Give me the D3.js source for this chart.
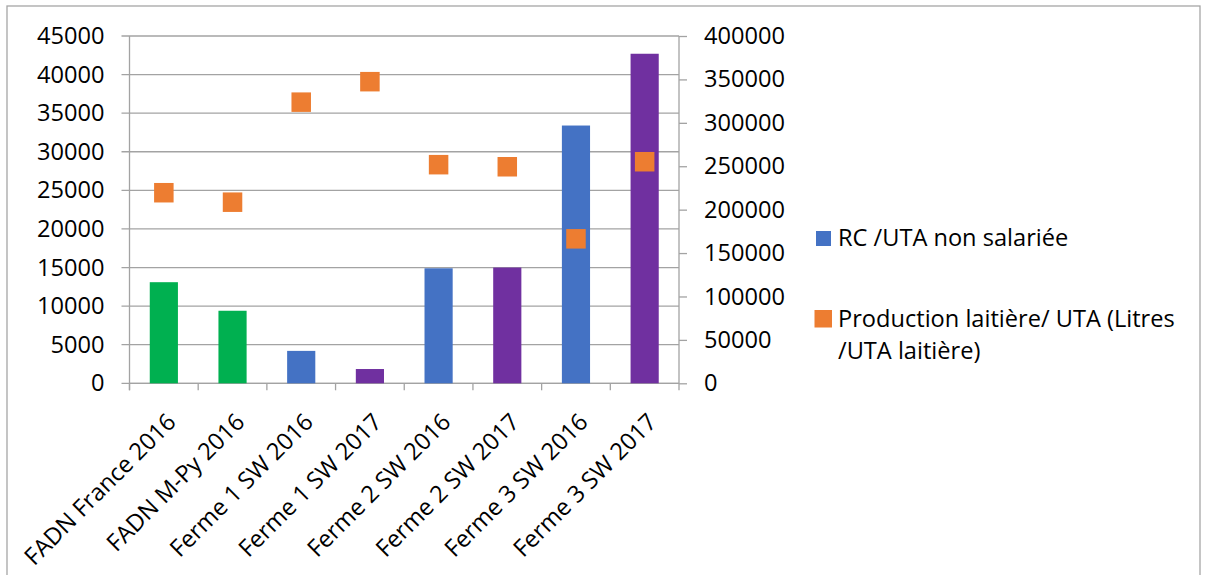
<!DOCTYPE html>
<html>
<head>
<meta charset="utf-8">
<script src="https://cdn.jsdelivr.net/npm/d3@7"></script>
<style>
  html, body { margin: 0; padding: 0; background: #fff; }
  svg { display: block; }
  text { font-family: "Open Sans", "Noto Sans", sans-serif; fill: #000; }
</style>
</head>
<body>
<svg id="chart" width="1213" height="575"></svg>
<script>
// ---- data ----
const categories = [
  "FADN France 2016", "FADN M-Py 2016", "Ferme 1 SW 2016", "Ferme 1 SW 2017",
  "Ferme 2 SW 2016", "Ferme 2 SW 2017", "Ferme 3 SW 2016", "Ferme 3 SW 2017"
];
const barGroups = ["FADN", "FADN", "2016", "2017", "2016", "2017", "2016", "2017"];
const rcValues = [13100, 9400, 4200, 1850, 14900, 15000, 33400, 42700];
const prodValues = [219500, 208600, 323800, 347400, 251800, 249400, 166400, 255200];
const leftTicks = [0, 5000, 10000, 15000, 20000, 25000, 30000, 35000, 40000, 45000];
const rightTicks = [0, 50000, 100000, 150000, 200000, 250000, 300000, 350000, 400000];
const legendLabels = ["RC /UTA non salariée", "Production laitière/ UTA (Litres", "/UTA laitière)"];

// ---- layout ----
const svg = d3.select("#chart");
const plot = { left: 129.5, right: 679, top: 36, bottom: 383.3 };
const gridColor = "#a3a3a3";
const fs = 23.6;

// chart border
svg.append("rect")
  .attr("x", 7).attr("y", 6).attr("width", 1193).attr("height", 600)
  .attr("fill", "none").attr("stroke", "#a6a6a6").attr("stroke-width", 1.3);

const x = d3.scaleBand().domain(categories)
  .range([plot.left, plot.right]).paddingInner(0.59).paddingOuter(0.295);
const xCat = d3.scaleBand().domain(categories).range([plot.left, plot.right]).padding(0);
const yL = d3.scaleLinear().domain([0, 45000]).range([plot.bottom, plot.top]);
const yR = d3.scaleLinear().domain([0, 400000]).range([plot.bottom, plot.top]);
const color = d3.scaleOrdinal().domain(["FADN", "2016", "2017"])
  .range(["#00b050", "#4472c4", "#7030a0"]);

// gridlines (with outward tick on left)
svg.append("g").selectAll("line").data(leftTicks).join("line")
  .attr("x1", plot.left - 8).attr("x2", plot.right)
  .attr("y1", d => yL(d)).attr("y2", d => yL(d))
  .attr("stroke", gridColor).attr("stroke-width", 1.3);

// left axis line
svg.append("line").attr("x1", plot.left).attr("x2", plot.left)
  .attr("y1", plot.top).attr("y2", plot.bottom + 7)
  .attr("stroke", gridColor).attr("stroke-width", 1.3);

// right axis
const rAxis = d3.axisRight(yR).tickValues(rightTicks).tickSize(8).tickPadding(17)
  .tickFormat(d3.format("d"));
const gR = svg.append("g").attr("transform", `translate(${plot.right},0)`).call(rAxis);
gR.selectAll("path, line").attr("stroke", gridColor).attr("stroke-width", 1.3);
gR.select(".domain").attr("d", `M0,${plot.top}V${plot.bottom}`);
gR.selectAll("text").attr("font-size", fs).attr("font-family", "Open Sans").attr("fill", "#000");

// left tick labels
const lAxis = d3.axisLeft(yL).tickValues(leftTicks).tickSize(8).tickPadding(17)
  .tickFormat(d3.format("d"));
const gL = svg.append("g").attr("transform", `translate(${plot.left},0)`).call(lAxis);
gL.selectAll("path, line").remove();
gL.selectAll("text").attr("font-size", fs).attr("font-family", "Open Sans").attr("fill", "#000");

// bottom category tick marks
const bounds = categories.map(c => xCat(c)).concat([plot.right]);
svg.append("g").selectAll("line").data(bounds).join("line")
  .attr("x1", d => d).attr("x2", d => d)
  .attr("y1", plot.bottom).attr("y2", plot.bottom + 7)
  .attr("stroke", gridColor).attr("stroke-width", 1.3);
svg.append("line").attr("x1", plot.left).attr("x2", plot.right)
  .attr("y1", plot.bottom).attr("y2", plot.bottom)
  .attr("stroke", gridColor).attr("stroke-width", 1.3);

// bars
svg.append("g").selectAll("rect").data(categories).join("rect")
  .attr("x", c => x(c))
  .attr("width", x.bandwidth())
  .attr("y", (c, i) => yL(rcValues[i]))
  .attr("height", (c, i) => yL(0) - yL(rcValues[i]))
  .attr("fill", (c, i) => color(barGroups[i]));

// scatter markers
const ms = 19.5;
svg.append("g").selectAll("rect").data(categories).join("rect")
  .attr("x", c => xCat(c) + xCat.bandwidth() / 2 - ms / 2)
  .attr("y", (c, i) => yR(prodValues[i]) - ms / 2)
  .attr("width", ms).attr("height", ms)
  .attr("fill", "#ed7d31");

// category labels
svg.append("g").selectAll("text").data(categories).join("text")
  .attr("transform", c => `translate(${xCat(c) + xCat.bandwidth() / 2},410) rotate(-45)`)
  .attr("x", 0).attr("y", 19)
  .attr("text-anchor", "end")
  .attr("font-size", fs)
  .text(c => c);

// legend
const lg = svg.append("g");
lg.append("rect").attr("x", 816).attr("y", 231).attr("width", 15).attr("height", 15).attr("fill", "#4472c4");
lg.append("text").attr("x", 838).attr("y", 246).attr("font-size", fs).text(legendLabels[0]);
lg.append("rect").attr("x", 814.5).attr("y", 310).attr("width", 17.5).attr("height", 17.5).attr("fill", "#ed7d31");
lg.append("text").attr("x", 838).attr("y", 327).attr("font-size", fs).text(legendLabels[1]);
lg.append("text").attr("x", 838).attr("y", 358.5).attr("font-size", fs).text(legendLabels[2]);
</script>
</body>
</html>
